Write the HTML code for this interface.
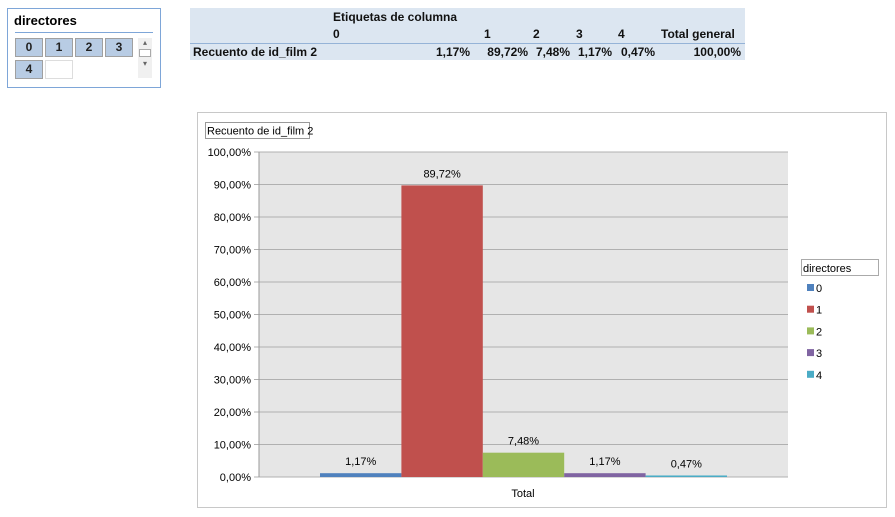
<!DOCTYPE html>
<html><head><meta charset="utf-8"><style>
body{margin:0;width:895px;height:517px;background:#fff;font-family:"Liberation Sans",sans-serif;position:relative;overflow:hidden}
.abs{position:absolute}
.btn{position:absolute;width:26px;height:17px;background:#b8cce4;border:1px solid #a0a0a0;font-size:12px;text-align:center;line-height:17px;font-weight:bold;color:#222}
.t{position:absolute;font-size:12px;font-weight:bold;color:#111;white-space:nowrap}
.r{text-align:right}
</style></head><body>
<div class="abs" style="left:7px;top:8px;width:152px;height:78px;border:1px solid #7ea6d8;background:#fff">
 <div class="abs" style="left:6px;top:4px;font-size:13px;font-weight:bold">directores</div>
 <div class="abs" style="left:7px;top:23px;width:138px;height:1px;background:#7ea6d8"></div>
 <div class="btn" style="left:7px;top:29px">0</div>
 <div class="btn" style="left:37px;top:29px">1</div>
 <div class="btn" style="left:67px;top:29px">2</div>
 <div class="btn" style="left:97px;top:29px">3</div>
 <div class="btn" style="left:7px;top:51px">4</div>
 <div class="abs" style="left:37px;top:51px;width:26px;height:17px;border:1px solid #ddd"></div>
 <div class="abs" style="left:130px;top:29px;width:14px;height:40px;background:#f0f0f0;font-size:8px;color:#666;text-align:center">▴<div style="height:6px;margin:2px 1px;border:1px solid #aaa;background:#fff"></div>▾</div>
</div>

<div>
 <div class="abs" style="left:190px;top:8px;width:555px;height:52px;background:#dce6f1"></div>
 <div class="abs" style="left:190px;top:43px;width:555px;height:1px;background:#95b3d7"></div>
 <div class="t" style="left:333px;top:10px">Etiquetas de columna</div>
 <div class="t" style="left:333px;top:27px">0</div>
 <div class="t" style="left:484px;top:27px">1</div>
 <div class="t" style="left:533px;top:27px">2</div>
 <div class="t" style="left:576px;top:27px">3</div>
 <div class="t" style="left:618px;top:27px">4</div>
 <div class="t" style="left:661px;top:27px">Total general</div>
 <div class="t" style="left:193px;top:45px">Recuento de id_film 2</div>
 <div class="t r" style="right:425px;top:45px">1,17%</div>
 <div class="t r" style="right:367px;top:45px">89,72%</div>
 <div class="t r" style="right:325px;top:45px">7,48%</div>
 <div class="t r" style="right:283px;top:45px">1,17%</div>
 <div class="t r" style="right:240px;top:45px">0,47%</div>
 <div class="t r" style="right:154px;top:45px">100,00%</div>
</div>

<svg class="abs" style="left:0;top:0" width="895" height="517" id="chart" font-family="Liberation Sans, sans-serif">
 <rect x="197.5" y="112.5" width="689" height="395" fill="#fff" stroke="#c8c8c8"/>
 <rect x="205.5" y="122.5" width="104" height="16" fill="#fff" stroke="#999"/>
 <text x="207" y="134.5" font-size="11" fill="#000">Recuento de id_film 2</text>
 <rect x="259" y="152" width="529" height="325" fill="#e6e6e6"/>
 <g id="grid"></g><g id="bars"></g>
 <text x="523" y="497" font-size="11" text-anchor="middle">Total</text>
 <rect x="801.5" y="259.5" width="77" height="16" fill="#fff" stroke="#aaa"/>
 <text x="803" y="272" font-size="11">directores</text>
 <g id="legend"></g>
</svg>
<script>
const categories=["0","1","2","3","4"];
const values=[1.17,89.72,7.48,1.17,0.47];
const labels=["1,17%","89,72%","7,48%","1,17%","0,47%"];
const ticks=[0,10,20,30,40,50,60,70,80,90,100];
const tickLabels=["0,00%","10,00%","20,00%","30,00%","40,00%","50,00%","60,00%","70,00%","80,00%","90,00%","100,00%"];
const colors=["#4f81bd","#c0504d","#9bbb59","#8064a2","#4bacc6"];
const NS="http://www.w3.org/2000/svg";
const y0=477,y1=152,xL=259,xR=788;
const yS=v=>y0-(v/100)*(y0-y1);
const barStart=320,barW=81.4;
const xS=i=>barStart+i*barW;
function mk(tag,at,parent){const e=document.createElementNS(NS,tag);for(const k in at)e.setAttribute(k,at[k]);parent.appendChild(e);return e;}
const grid=document.getElementById('grid');
ticks.forEach((t,i)=>{
 const l=mk('line',{x1:xL-5,x2:xR,y1:yS(t),y2:yS(t),stroke:'#b0b0b0','stroke-width':1},grid);
 
 
 const tx=mk('text',{x:xL-8,y:yS(t)+4,'font-size':11,'text-anchor':'end'},grid);
 tx.textContent=tickLabels[i];
 
 
});
mk('line',{x1:xL,x2:xL,y1:y1,y2:y0,stroke:'#999'},grid);
const bars=document.getElementById('bars');
values.forEach((v,i)=>{
 const r=mk('rect',{x:xS(i),y:yS(v),width:barW,height:y0-yS(v),fill:colors[i]},bars);
 
 
 const t=mk('text',{x:xS(i)+barW/2,y:yS(v)-8,'font-size':11,'text-anchor':'middle'},bars);
 t.textContent=labels[i];
 
 
});
const leg=document.getElementById('legend');
categories.forEach((c,i)=>{
 const yy=288+i*21.7;
 const s=mk('rect',{x:807,y:yy-4,width:7,height:7,fill:colors[i]},leg);
 
 
 const t=mk('text',{x:816,y:yy+4,'font-size':11},leg);
 t.textContent=c;
 
 
});
</script>
</body></html>
